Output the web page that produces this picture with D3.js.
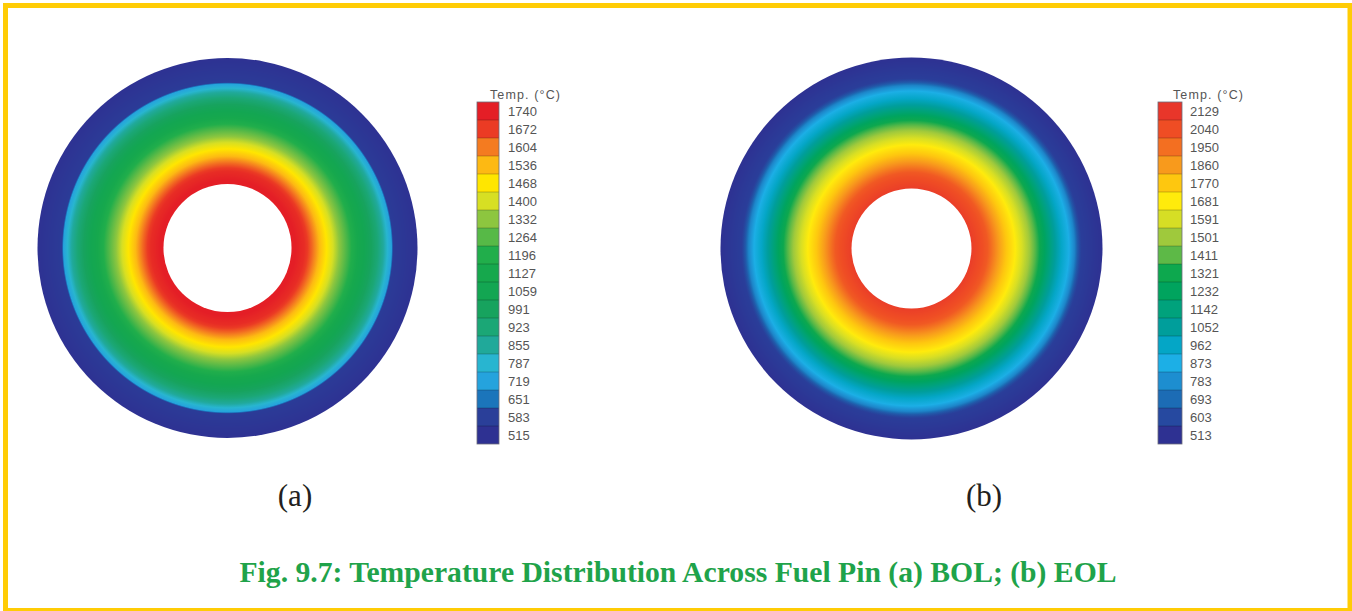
<!DOCTYPE html>
<html>
<head>
<meta charset="utf-8">
<script src="https://cdn.jsdelivr.net/npm/d3@7"></script>
<style>
  html, body { margin: 0; padding: 0; background: #ffffff; }
  svg { display: block; }
</style>
</head>
<body>
<svg id="chart" width="1352" height="611"></svg>
<script>
// Legend levels (°C), top to bottom, and the colour of each contour band
const bolLevels = [1740, 1672, 1604, 1536, 1468, 1400, 1332, 1264, 1196, 1127, 1059, 991, 923, 855, 787, 719, 651, 583, 515];
const bolColors = ["#E41E26", "#EB3B24", "#F47B20", "#FDB913", "#FFE600", "#D7DF23", "#8DC63F", "#57B947", "#21AE4B", "#16A84D", "#13A652", "#17A35E", "#1BA776", "#20A99A", "#28B5D0", "#25A3DD", "#1B75BB", "#2A3F99", "#2E3192"];

const eolLevels = [2129, 2040, 1950, 1860, 1770, 1681, 1591, 1501, 1411, 1321, 1232, 1142, 1052, 962, 873, 783, 693, 603, 513];
const eolColors = ["#E8362A", "#EF4D24", "#F36F21", "#F89A1C", "#FEC70F", "#FFEB0C", "#D6DE25", "#9FC93C", "#5DB947", "#0DA84E", "#00A45E", "#00A27C", "#009E9B", "#04A6C6", "#1CAFE6", "#1D8ED0", "#1C6CB5", "#2649A0", "#2E3192"];

// Radial temperature profiles: r / R_outer (pellet bore to clad outer surface) and temperature (°C)
const bolRadius = [0.337, 0.405, 0.447, 0.484, 0.526, 0.579, 0.632, 0.684, 0.742, 0.789, 0.821, 0.863, 0.872, 1.0];
const bolTemp   = [1755, 1706, 1620, 1535, 1460, 1350, 1240, 1130, 1020, 925, 850, 720, 565, 518];

const eolRadius = [0.314, 0.398, 0.419, 0.455, 0.497, 0.539, 0.576, 0.618, 0.654, 0.707, 0.749, 0.785, 0.822, 0.853, 0.869, 0.890, 1.0];
const eolTemp   = [2100, 2010, 1950, 1860, 1770, 1690, 1600, 1500, 1380, 1200, 1060, 960, 880, 760, 650, 560, 513];

const panelLabels = ["(a)", "(b)"];
const legendTitle = "Temp. (\u00B0C)";
const caption = "Fig. 9.7: Temperature Distribution Across Fuel Pin (a) BOL; (b) EOL";

const svg = d3.select("#chart");
const defs = svg.append("defs");

// Page frame
svg.append("rect")
  .attr("x", 5.5).attr("y", 5.5)
  .attr("width", 1344.5).attr("height", 605)
  .attr("fill", "none")
  .attr("stroke", "#FFCC05")
  .attr("stroke-width", 5);

const panels = [
  { id: "bol", levels: bolLevels, colors: bolColors, radius: bolRadius, temp: bolTemp,
    cx: 227.5, cy: 248, R: 190, legendX: 477, legendW: 22, labelX: 508, titleX: 490, label: panelLabels[0], labelCx: 295 },
  { id: "eol", levels: eolLevels, colors: eolColors, radius: eolRadius, temp: eolTemp,
    cx: 911.5, cy: 248.5, R: 191, legendX: 1158, legendW: 24, labelX: 1190, titleX: 1173, label: panelLabels[1], labelCx: 984 }
];

panels.forEach(p => {
  // temperature -> colour, continuous through the band colours
  const color = d3.scaleLinear()
    .domain(p.levels.slice().reverse())
    .range(p.colors.slice().reverse())
    .interpolate(d3.interpolateRgb)
    .clamp(true);
  // radial position -> temperature
  const tempAt = d3.scaleLinear().domain(p.radius).range(p.temp).clamp(true);

  // radial gradient built from the profile
  const rInner = p.radius[0];
  const grad = defs.append("radialGradient")
    .attr("id", "grad-" + p.id)
    .attr("cx", "50%").attr("cy", "50%").attr("r", "50%");
  const steps = d3.range(0, 301).map(i => rInner + (1 - rInner) * i / 300);
  grad.append("stop").attr("offset", 0).attr("stop-color", color(tempAt(rInner)));
  steps.forEach(f => {
    grad.append("stop")
      .attr("offset", f)
      .attr("stop-color", color(tempAt(f)));
  });

  const g = svg.append("g");
  g.append("circle")
    .attr("cx", p.cx).attr("cy", p.cy).attr("r", p.R)
    .attr("fill", `url(#grad-${p.id})`);
  // central bore
  g.append("circle")
    .attr("cx", p.cx).attr("cy", p.cy).attr("r", p.R * rInner)
    .attr("fill", "#ffffff");

  // Legend
  const bandH = 18;
  const y = d3.scaleBand()
    .domain(p.levels)
    .range([102, 102 + bandH * p.levels.length])
    .padding(0);
  const lg = svg.append("g");
  lg.selectAll("rect.band")
    .data(p.levels)
    .join("rect")
    .attr("class", "band")
    .attr("x", p.legendX)
    .attr("y", d => y(d))
    .attr("width", p.legendW)
    .attr("height", y.bandwidth())
    .attr("fill", (d, i) => p.colors[i]);
  lg.selectAll("line.sep")
    .data(p.levels.slice(1))
    .join("line")
    .attr("class", "sep")
    .attr("x1", p.legendX).attr("x2", p.legendX + p.legendW)
    .attr("y1", d => y(d)).attr("y2", d => y(d))
    .attr("stroke", "#000").attr("stroke-opacity", 0.22).attr("stroke-width", 1);
  lg.append("rect")
    .attr("x", p.legendX).attr("y", y.range()[0])
    .attr("width", p.legendW).attr("height", y.range()[1] - y.range()[0])
    .attr("fill", "none").attr("stroke", "#6b6b7a").attr("stroke-width", 0.8);
  lg.selectAll("text.lvl")
    .data(p.levels)
    .join("text")
    .attr("class", "lvl")
    .attr("x", p.labelX)
    .attr("y", d => y(d) + y.bandwidth() / 2)
    .attr("dy", "0.36em")
    .attr("font-family", "Liberation Sans, Arial, sans-serif")
    .attr("font-size", 13)
    .attr("fill", "#555555")
    .text(d => d);
  lg.append("text")
    .attr("x", p.titleX).attr("y", 99)
    .attr("font-family", "Liberation Sans, Arial, sans-serif")
    .attr("font-size", 12.5)
    .attr("fill", "#555555")
    .attr("textLength", 70)
    .attr("lengthAdjust", "spacing")
    .text(legendTitle);

  // Panel label
  svg.append("text")
    .attr("x", p.labelCx).attr("y", 506)
    .attr("text-anchor", "middle")
    .attr("font-family", "Liberation Serif, Times New Roman, serif")
    .attr("font-size", 31)
    .attr("fill", "#231f20")
    .text(p.label);
});

// Caption
svg.append("text")
  .attr("x", 678).attr("y", 582)
  .attr("text-anchor", "middle")
  .attr("font-family", "Liberation Serif, Times New Roman, serif")
  .attr("font-weight", "bold")
  .attr("font-size", 30)
  .attr("fill", "#1FA34A")
  .attr("textLength", 877)
  .attr("lengthAdjust", "spacingAndGlyphs")
  .text(caption);
</script>
</body>
</html>
